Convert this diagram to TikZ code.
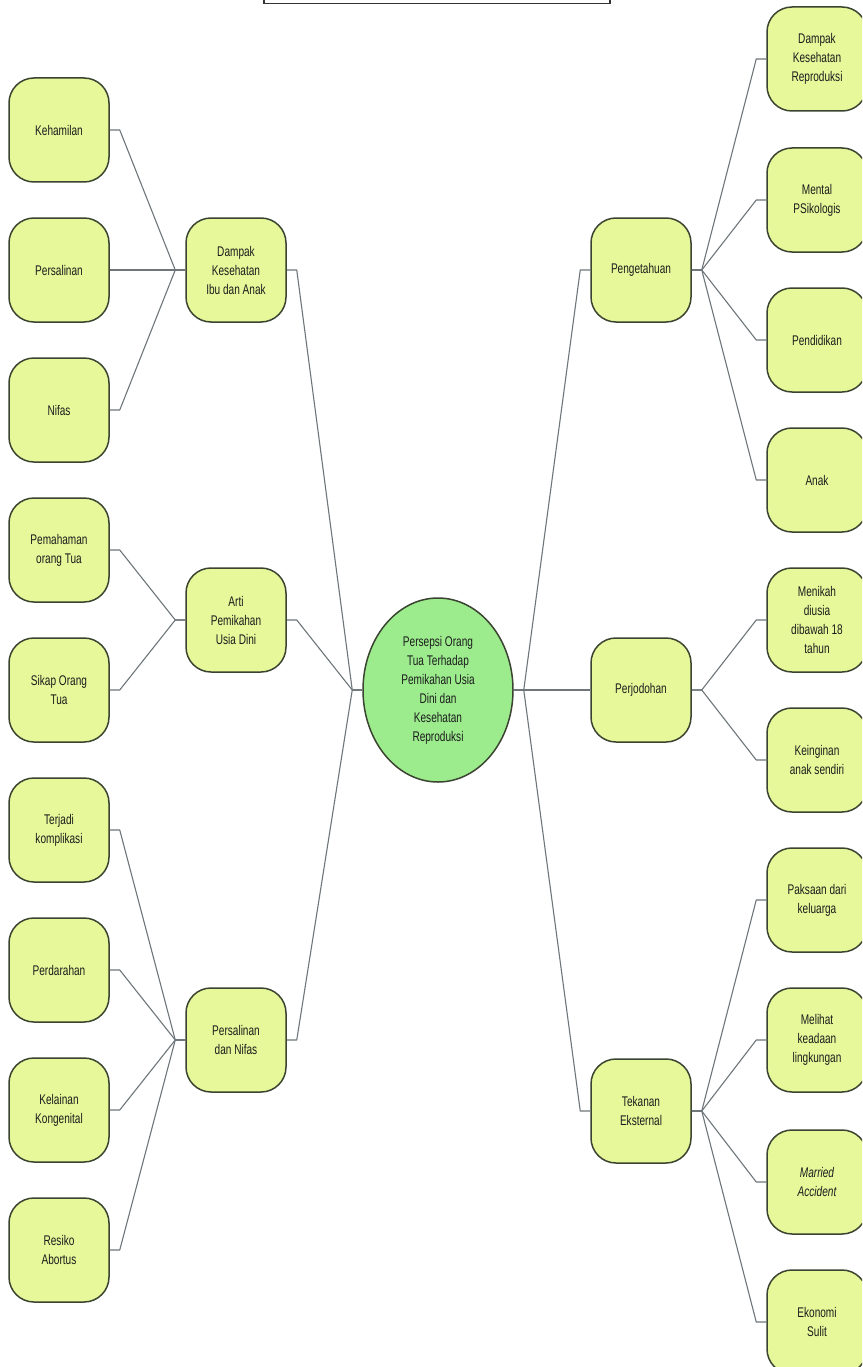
\documentclass[tikz,border=0pt]{standalone}
\usepackage{fontspec}
\setmainfont[FakeStretch=0.72]{Liberation Sans}
\usetikzlibrary{shapes.geometric}
\definecolor{leaffill}{HTML}{E6F89A}
\definecolor{leafdraw}{HTML}{3A4430}
\definecolor{centfill}{HTML}{9CEC8E}
\definecolor{connc}{HTML}{6E767A}
\definecolor{txt}{HTML}{1C1C1C}
\tikzset{
  box/.style={draw=leafdraw, fill=leaffill, line width=1.5pt, rounded corners=25pt,
    minimum width=100pt, minimum height=104pt, inner sep=0pt, align=center,
    text=txt, font=\fontsize{14}{19}\selectfont},
  hub/.style={draw=leafdraw, fill=centfill, line width=1.5pt, ellipse,
    minimum width=150pt, minimum height=184pt, inner sep=0pt, align=center,
    text=txt, font=\fontsize{14}{19}\selectfont},
  conn/.style={draw=connc, line width=1.1pt, line join=round},
  titlebox/.style={draw=black!80, line width=1.6pt}
}
\newcommand\linkLR[2]{\draw[conn] (#1.east) -- ++(10,0) -- ([xshift=-10pt]#2.west) -- (#2.west);}
\begin{document}
\begin{tikzpicture}[x=1pt,y=-1pt]
\useasboundingbox (0,0) rectangle (862,1367);
\clip (0,0) rectangle (862,1367);
\fill[white] (0,0) rectangle (862,1367);
% title box (cut off at top)
\draw[titlebox] (264,-30) rectangle (610,3.5);
% centre
\node[hub] (c) at (438,690) {Persepsi Orang\\Tua Terhadap\\Pemikahan Usia\\Dini dan\\Kesehatan\\Reproduksi};
% left middle
\node[box] (m1) at (236,270) {Dampak\\Kesehatan\\Ibu dan Anak};
\node[box] (m2) at (236,620) {Arti\\Pemikahan\\Usia Dini};
\node[box] (m3) at (236,1040) {Persalinan\\dan Nifas};
% left leaves
\node[box] (l1) at (59,130) {Kehamilan};
\node[box] (l2) at (59,270) {Persalinan};
\node[box] (l3) at (59,410) {Nifas};
\node[box] (l4) at (59,550) {Pemahaman\\orang Tua};
\node[box] (l5) at (59,690) {Sikap Orang\\Tua};
\node[box] (l6) at (59,830) {Terjadi\\komplikasi};
\node[box] (l7) at (59,970) {Perdarahan};
\node[box] (l8) at (59,1110) {Kelainan\\Kongenital};
\node[box] (l9) at (59,1250) {Resiko\\Abortus};
% right middle
\node[box] (r1) at (641,270) {Pengetahuan};
\node[box] (r2) at (641,690) {Perjodohan};
\node[box] (r3) at (641,1111) {Tekanan\\Eksternal};
% right leaves
\node[box] (q1) at (817,59) {Dampak\\Kesehatan\\Reproduksi};
\node[box] (q2) at (817,200) {Mental\\PSikologis};
\node[box] (q3) at (817,340) {Pendidikan};
\node[box] (q4) at (817,480) {Anak};
\node[box] (q5) at (817,620) {Menikah\\diusia\\dibawah 18\\tahun};
\node[box] (q6) at (817,760) {Keinginan\\anak sendiri};
\node[box] (q7) at (817,900) {Paksaan dari\\keluarga};
\node[box] (q8) at (817,1040) {Melihat\\keadaan\\lingkungan};
\node[box] (q9) at (817,1182) {\itshape Married\\\itshape Accident};
\node[box] (q10) at (817,1322) {Ekonomi\\Sulit};
% connectors
\begin{scope}[on background layer/.try]
\end{scope}
\linkLR{l1}{m1}\linkLR{l2}{m1}\linkLR{l3}{m1}
\linkLR{l4}{m2}\linkLR{l5}{m2}
\linkLR{l6}{m3}\linkLR{l7}{m3}\linkLR{l8}{m3}\linkLR{l9}{m3}
\linkLR{m1}{c}\linkLR{m2}{c}\linkLR{m3}{c}
\linkLR{c}{r1}\linkLR{c}{r2}\linkLR{c}{r3}
\linkLR{r1}{q1}\linkLR{r1}{q2}\linkLR{r1}{q3}\linkLR{r1}{q4}
\linkLR{r2}{q5}\linkLR{r2}{q6}
\linkLR{r3}{q7}\linkLR{r3}{q8}\linkLR{r3}{q9}\linkLR{r3}{q10}
\end{tikzpicture}
\end{document}
